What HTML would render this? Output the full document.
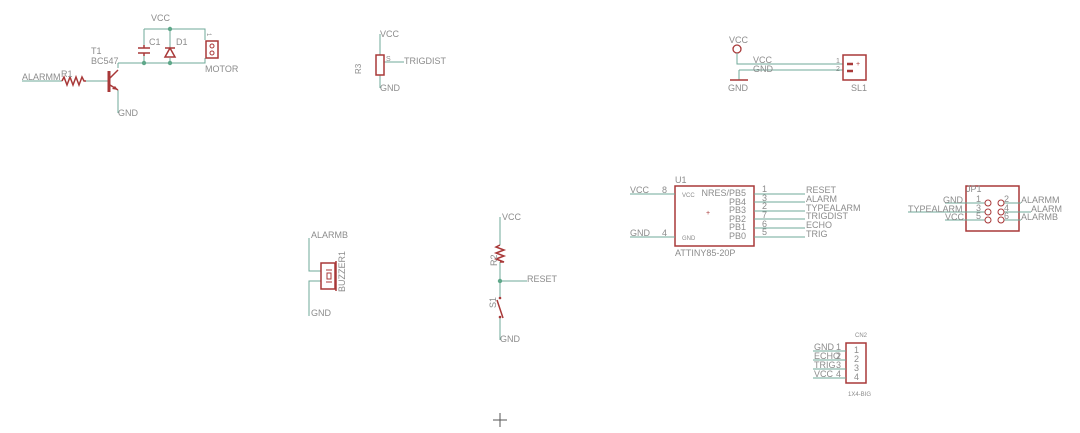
<!DOCTYPE html>
<html><head><meta charset="utf-8"><style>
html,body{margin:0;padding:0;background:#fff;}
svg{display:block;}
text{font-family:"Liberation Sans",sans-serif;fill:#8c8c8c;font-size:9px;}
.w{stroke:#6fa898;stroke-width:1;fill:none;}
.r{stroke:#a83838;stroke-width:1.5;fill:none;}
.rt{fill:#a83838;}
.d{fill:#5fa88a;}
</style></head><body>
<svg width="1080" height="433" viewBox="0 0 1080 433" xmlns="http://www.w3.org/2000/svg">
<!-- Motor driver -->
<text x="151" y="21">VCC</text>
<path class="w" d="M144 29H205V40M144 29V45M144 55V63M170 29V48M170 58V63M118 63H205V58M22 81H62M86 81H108M118 68V63M118 90V113"/>
<circle class="d" cx="170" cy="29" r="2.2"/><circle class="d" cx="144" cy="63" r="2.2"/><circle class="d" cx="170" cy="63" r="2.2"/>
<path class="r" d="M138 48H150M138 53H150M144 45V48M144 53V56"/>
<path class="r" d="M165 48H175M170 48L165 57H175Z"/>
<rect class="r" x="206" y="41" width="12" height="17"/>
<circle class="r" cx="212" cy="46" r="2" style="stroke-width:1"/><circle class="r" cx="212" cy="53" r="2" style="stroke-width:1"/>
<text x="206" y="38" style="font-size:6px" transform="rotate(90 209 36)">1</text>
<text x="176" y="45">D1</text>
<text x="149" y="45">C1</text>
<text x="205" y="72">MOTOR</text>
<path class="r" d="M62 81L64 77L67 85L70 77L73 85L76 77L79 85L82 77L84 81H86"/>
<path class="r" d="M109 71V92" style="stroke-width:3"/>
<path class="r" d="M110 78L118 70M110 85L118 90"/>
<path class="rt" d="M118 90L112 89L115 86Z"/>
<text x="22" y="80">ALARMM</text><text x="61" y="77">R1</text>
<text x="91" y="54">T1</text><text x="91" y="64">BC547</text>
<text x="118" y="116">GND</text>
<!-- R3 -->
<text x="380" y="37">VCC</text>
<path class="w" d="M380 34V55M380 75V88M384 62H404"/>
<rect class="r" x="376" y="55" width="8" height="20"/>
<text x="386" y="61" style="font-size:7px">S</text>
<text x="404" y="64">TRIGDIST</text>
<text x="380" y="91">GND</text>
<text x="358" y="77" transform="rotate(-90 358 74)" style="font-size:8px">R3</text>
<!-- SL1 -->
<circle cx="737" cy="49" r="4" fill="none" stroke="#a83838" stroke-width="1.3"/>
<text x="729" y="43">VCC</text>
<path class="w" d="M737 53V64H843M739 70H843M739 70V80"/>
<path class="r" d="M730 80H748"/>
<text x="728" y="91">GND</text>
<text x="753" y="63">VCC</text><text x="753" y="72">GND</text>
<text x="836" y="63" style="font-size:7px">1</text><text x="836" y="71" style="font-size:7px">2</text>
<rect class="r" x="843" y="55" width="23" height="25"/>
<path class="r" d="M847 64H853M847 71H853" style="stroke-width:2.5"/>
<text x="856" y="66" style="font-size:7px;fill:#a83838">+</text>
<text x="851" y="91">SL1</text>
<!-- U1 -->
<rect class="r" x="675" y="186" width="79" height="60"/>
<text x="675" y="183">U1</text>
<path class="w" d="M630 194H675M630 237H675M754 194H805M754 202H805M754 211H805M754 219H805M754 228H805M754 237H805"/>
<text x="630" y="193">VCC</text><text x="630" y="236">GND</text>
<g style="font-size:7px"><text x="662" y="193">8</text><text x="662" y="236">4</text>
<text x="762" y="192">1</text><text x="762" y="201">3</text><text x="762" y="209">2</text><text x="762" y="218">7</text><text x="762" y="227">6</text><text x="762" y="235">5</text>
<text x="682" y="197" style="font-size:6px">VCC</text><text x="682" y="240" style="font-size:6px">GND</text>
<g text-anchor="end" style="font-size:5.5px"><text x="746" y="196">NRES/PB5</text><text x="746" y="205">PB4</text><text x="746" y="213">PB3</text><text x="746" y="222">PB2</text><text x="746" y="230">PB1</text><text x="746" y="239">PB0</text></g></g>
<text x="706" y="215" style="font-size:7px;fill:#a83838">+</text>
<text x="806" y="193">RESET</text><text x="806" y="202">ALARM</text><text x="806" y="211">TYPEALARM</text><text x="806" y="219">TRIGDIST</text><text x="806" y="228">ECHO</text><text x="806" y="237">TRIG</text>
<text x="675" y="256">ATTINY85-20P</text>
<!-- JP1 -->
<rect class="r" x="966" y="186" width="53" height="45"/>
<text x="966" y="192">JP1</text>
<path class="w" d="M945 203H985M908 212H985M945 220H985M1004 203H1021M1004 212H1031M1004 220H1021"/>
<g fill="none" stroke="#a83838" stroke-width="1"><circle cx="988" cy="203" r="3"/><circle cx="988" cy="212" r="3"/><circle cx="988" cy="220" r="3"/><circle cx="1001" cy="203" r="3"/><circle cx="1001" cy="212" r="3"/><circle cx="1001" cy="220" r="3"/></g>
<g style="font-size:7px"><text x="976" y="202">1</text><text x="976" y="211">3</text><text x="976" y="219">5</text><text x="1004" y="202">2</text><text x="1004" y="211">4</text><text x="1004" y="219">6</text></g>
<text x="943" y="203">GND</text><text x="908" y="212">TYPEALARM</text><text x="945" y="220">VCC</text>
<text x="1021" y="203">ALARMM</text><text x="1031" y="212">ALARM</text><text x="1021" y="220">ALARMB</text>
<!-- Buzzer -->
<text x="311" y="238">ALARMB</text>
<path class="w" d="M309 238V271H321M321 281H309V316"/>
<rect class="r" x="321" y="263" width="14" height="26"/>
<path class="r" d="M336 261V291"/>
<path class="r" d="M326 270H332M326 282H332M327 273H331V279H327Z" style="stroke-width:1"/>
<text x="345" y="292" transform="rotate(-90 345 292)">BUZZER1</text>
<text x="311" y="316">GND</text>
<!-- R2 / S1 -->
<text x="502" y="220">VCC</text>
<path class="w" d="M500 217V245M500 262V281H527M500 281V297M500 318V340"/>
<path class="r" d="M500 245L496 247L504 250L496 253L504 256L496 259L504 262L500 262"/>
<circle class="d" cx="500" cy="281" r="2.2"/>
<circle cx="500" cy="298" r="1.3" fill="#a83838"/><circle cx="500" cy="317" r="1.3" fill="#a83838"/>
<path class="r" d="M497 300L503 318"/>
<text x="493" y="270" transform="rotate(-90 493 266)">R2</text>
<text x="493" y="311" transform="rotate(-90 493 308)">S1</text>
<text x="527" y="282">RESET</text>
<text x="500" y="342">GND</text>
<!-- CN2 -->
<rect class="r" x="846" y="343" width="20" height="40"/>
<path class="w" d="M813 351H846M813 360H846M813 369H846M813 378H846"/>
<g style="font-size:7px"><text x="855" y="337" style="font-size:6px">CN2</text><text x="854" y="353">1</text><text x="854" y="362">2</text><text x="854" y="371">3</text><text x="854" y="380">4</text>
<text x="848" y="396" style="font-size:6px">1X4-BIG</text>
<text x="836" y="350">1</text><text x="836" y="359">2</text><text x="836" y="368">3</text><text x="836" y="377">4</text></g>
<text x="814" y="350">GND</text><text x="814" y="359">ECHO</text><text x="814" y="368">TRIG</text><text x="814" y="377">VCC</text>
<!-- origin cross -->
<path d="M493 420H507M500 413V427" stroke="#555" stroke-width="1"/>
</svg>
</body></html>
